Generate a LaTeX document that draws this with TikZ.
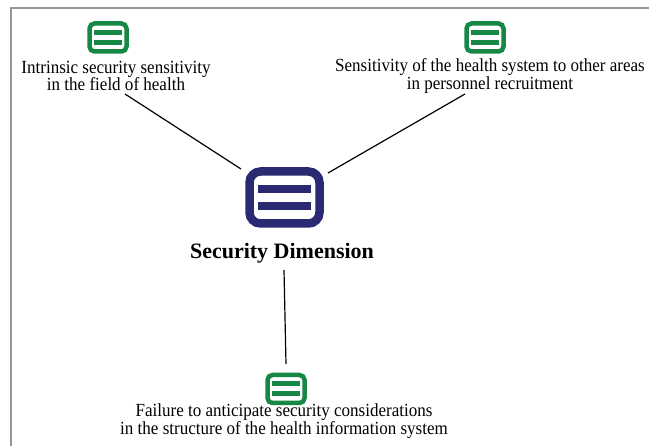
\documentclass[tikz,border=0pt]{standalone}
\usepackage{fontspec}
\setmainfont{Liberation Serif}
\newfontfamily\lblfont[FakeStretch=0.92]{Liberation Serif}
\definecolor{icongreen}{RGB}{22,135,68}
\definecolor{iconnavy}{RGB}{42,42,115}
\definecolor{framegray}{RGB}{150,150,150}
\tikzset{
  smallicon/.style={draw=icongreen, line width=4.5pt, rounded corners=5pt, fill=white,
    minimum width=37pt, minimum height=28pt, inner sep=0pt,
    path picture={
      \fill[icongreen, sharp corners] ([xshift=-14pt,yshift=2.5pt]path picture bounding box.center) rectangle ([xshift=14pt,yshift=7.5pt]path picture bounding box.center);
      \fill[icongreen, sharp corners] ([xshift=-14pt,yshift=-2.5pt]path picture bounding box.center) rectangle ([xshift=14pt,yshift=-7.5pt]path picture bounding box.center);
    }},
  bigicon/.style={draw=iconnavy, line width=8.5pt, rounded corners=11pt, fill=white,
    minimum width=70pt, minimum height=52pt, inner sep=0pt,
    path picture={
      \fill[iconnavy, sharp corners] ([xshift=-26.5pt,yshift=4.5pt]path picture bounding box.center) rectangle ([xshift=26.5pt,yshift=12.5pt]path picture bounding box.center);
      \fill[iconnavy, sharp corners] ([xshift=-26.5pt,yshift=-4.5pt]path picture bounding box.center) rectangle ([xshift=26.5pt,yshift=-12.5pt]path picture bounding box.center);
    }},
  lbl/.style={align=center, font=\lblfont\fontsize{18.5}{17.5}\selectfont, inner sep=0pt},
  mainlbl/.style={font=\fontsize{22}{24}\selectfont\bfseries, inner sep=0pt},
  conn/.style={draw=black, line width=1.2pt},
  frame/.style={draw=framegray, line width=1.6pt}
}
\begin{document}
\begin{tikzpicture}[x=1pt,y=-1pt]
\useasboundingbox (0,0) rectangle (649,446);
\fill[white] (0,0) rectangle (649,446);
\coordinate (f1) at (11,446);
\coordinate (f2) at (11,8);
\coordinate (f3) at (649,8);
\draw[frame] (f1) -- (f2) -- (f3);

\node[bigicon] (center) at (284.5,197.5) {};
\node[mainlbl, anchor=base] (centerlbl) at (282,259) {Security Dimension};

\node[smallicon] (i1) at (108,37.5) {};
\node[lbl] (t1) at (116,76) {Intrinsic security sensitivity\\in the field of health};

\node[smallicon] (i2) at (485,37.5) {};
\node[lbl] (t2) at (490,76) {Sensitivity of the health system to other areas\\in personnel recruitment};

\node[smallicon] (i3) at (286,389) {};
\node[lbl] (t3) at (284,421) {Failure to anticipate security considerations\\in the structure of the health information system};

\coordinate (a1) at (125,94);
\coordinate (b1) at (241,169);
\coordinate (a2) at (465,94);
\coordinate (b2) at (328,173);
\coordinate (a3) at (284,270);
\coordinate (b3) at (286,364);
\draw[conn] (a1) -- (b1);
\draw[conn] (a2) -- (b2);
\draw[conn] (a3) -- (b3);
\end{tikzpicture}
\end{document}
